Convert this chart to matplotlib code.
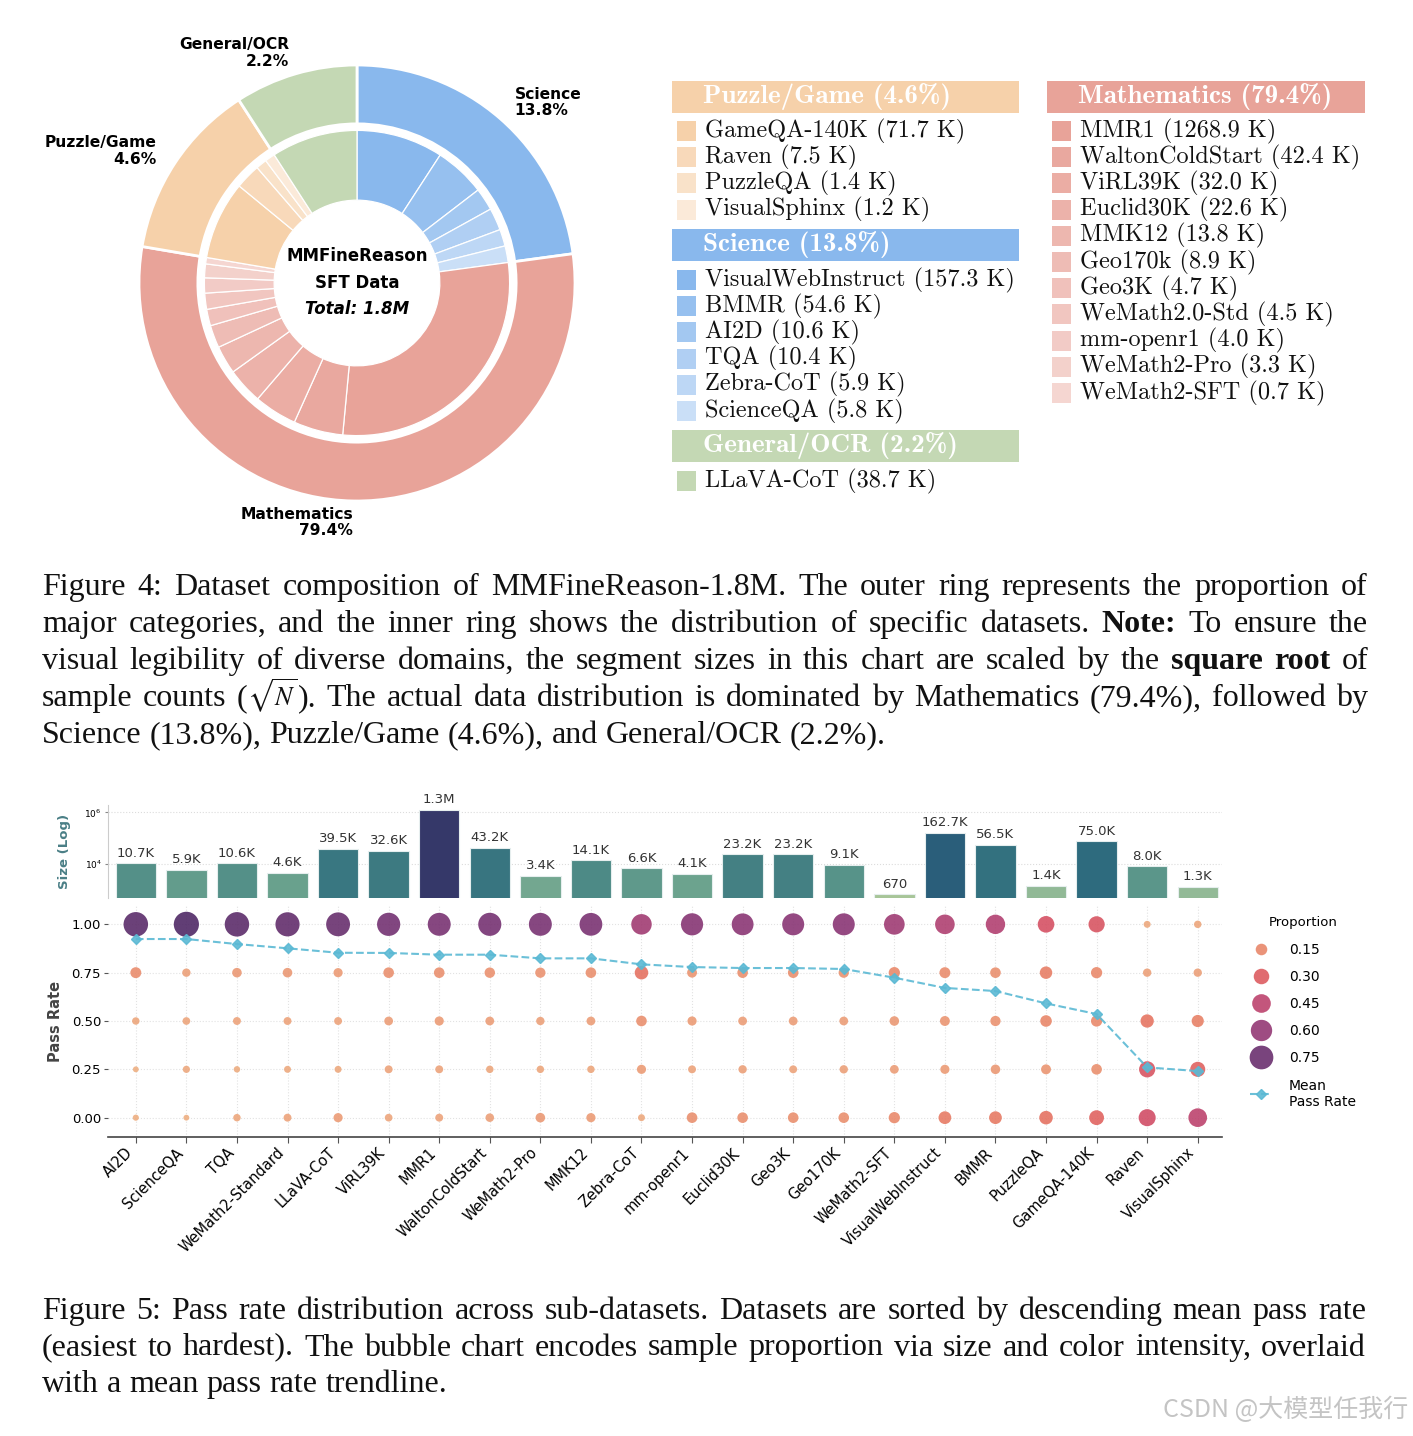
import numpy as np
import matplotlib
matplotlib.use("Agg")
import matplotlib.pyplot as plt
import seaborn as sns
from matplotlib.patches import Rectangle
from matplotlib.lines import Line2D
from matplotlib.colors import Normalize, LogNorm, to_rgb

# ---------------- data : Figure 4 (donut) ----------------
categories = ["Science", "Mathematics", "Puzzle/Game", "General/OCR"]
cat_pct = [13.8, 79.4, 4.6, 2.2]
cat_colors = ["#89b8ed", "#e8a399", "#f6d1aa", "#c4d8b4"]

sci_names = ["VisualWebInstruct", "BMMR", "AI2D", "TQA", "Zebra-CoT", "ScienceQA"]
sci_k = [157.3, 54.6, 10.6, 10.4, 5.9, 5.8]
math_names = ["MMR1", "WaltonColdStart", "ViRL39K", "Euclid30K", "MMK12", "Geo170k",
              "Geo3K", "WeMath2.0-Std", "mm-openr1", "WeMath2-Pro", "WeMath2-SFT"]
math_k = [1268.9, 42.4, 32.0, 22.6, 13.8, 8.9, 4.7, 4.5, 4.0, 3.3, 0.7]
puzzle_names = ["GameQA-140K", "Raven", "PuzzleQA", "VisualSphinx"]
puzzle_k = [71.7, 7.5, 1.4, 1.2]
general_names = ["LLaVA-CoT"]
general_k = [38.7]

# ---------------- data : Figure 5 (pass rate) ----------------
datasets = ["AI2D", "ScienceQA", "TQA", "WeMath2-Standard", "LLaVA-CoT", "ViRL39K", "MMR1",
            "WaltonColdStart", "WeMath2-Pro", "MMK12", "Zebra-CoT", "mm-openr1", "Euclid30K",
            "Geo3K", "Geo170K", "WeMath2-SFT", "VisualWebInstruct", "BMMR", "PuzzleQA",
            "GameQA-140K", "Raven", "VisualSphinx"]
sizes = [10700, 5900, 10600, 4600, 39500, 32600, 1300000, 43200, 3400, 14100, 6600, 4100,
         23200, 23200, 9100, 670, 162700, 56500, 1400, 75000, 8000, 1300]
levels = [0.0, 0.25, 0.50, 0.75, 1.00]
prop_000 = [0.015, 0.01, 0.04, 0.05, 0.08, 0.045, 0.05, 0.065, 0.09, 0.08, 0.03, 0.12, 0.12,
            0.12, 0.12, 0.14, 0.19, 0.19, 0.22, 0.27, 0.37, 0.45]
prop_025 = [0.01, 0.035, 0.02, 0.03, 0.03, 0.05, 0.05, 0.04, 0.04, 0.04, 0.08, 0.05, 0.06,
            0.05, 0.06, 0.07, 0.08, 0.09, 0.10, 0.12, 0.33, 0.28]
prop_050 = [0.04, 0.045, 0.05, 0.05, 0.05, 0.07, 0.08, 0.07, 0.06, 0.07, 0.12, 0.08, 0.07,
            0.07, 0.07, 0.09, 0.10, 0.11, 0.15, 0.14, 0.21, 0.17]
prop_075 = [0.13, 0.06, 0.09, 0.09, 0.08, 0.12, 0.12, 0.115, 0.11, 0.12, 0.22, 0.10, 0.12,
            0.12, 0.11, 0.14, 0.13, 0.12, 0.18, 0.14, 0.06, 0.06]
prop_100 = [0.805, 0.85, 0.80, 0.78, 0.76, 0.715, 0.70, 0.71, 0.70, 0.69, 0.55, 0.65, 0.63,
            0.64, 0.64, 0.56, 0.50, 0.49, 0.35, 0.33, 0.03, 0.04]
mean_pass = [0.924, 0.924, 0.898, 0.876, 0.853, 0.852, 0.843, 0.843, 0.824, 0.824, 0.793,
             0.779, 0.774, 0.774, 0.769, 0.724, 0.671, 0.655, 0.591, 0.536, 0.260, 0.241]
legend_props = [0.15, 0.30, 0.45, 0.60, 0.75]

# ---------------- figure ----------------
W, H = 1413, 1436
fig = plt.figure(figsize=(W / 100, H / 100), dpi=100)
fig.patch.set_facecolor("white")
ov = fig.add_axes([0, 0, 1, 1])
ov.set_xlim(0, W)
ov.set_ylim(H, 0)
ov.axis("off")
renderer = fig.canvas.get_renderer()


def lighten(c, t):
    r = np.array(to_rgb(c))
    return tuple(r + (1 - r) * t)


def shades(base, n):
    if n == 1:
        return [base]
    return [lighten(base, 0.55 * i / (n - 1)) for i in range(n)]


# ---------------- donut ----------------
cx, cy, R = 357, 283, 218
half = 1.3 * R
ax_pie = fig.add_axes([(cx - half) / W, 1 - (cy + half) / H, 2 * half / W, 2 * half / H])
outer_vals = np.sqrt(cat_pct)
outer_labels = [f"{c}\n{p}%" for c, p in zip(categories, cat_pct)]
ax_pie.pie(outer_vals, radius=1.0, startangle=90, counterclock=False, colors=cat_colors,
           labels=outer_labels, labeldistance=1.1,
           wedgeprops=dict(width=0.27, edgecolor="white", linewidth=2),
           textprops=dict(fontsize=11.2, fontweight="bold", color="black", linespacing=1.1))

groups = [(sci_k, cat_colors[0]), (math_k, cat_colors[1]), (puzzle_k, cat_colors[2]),
          (general_k, cat_colors[3])]
inner_vals, inner_cols = [], []
for (ks, base), tot in zip(groups, outer_vals):
    sq = np.sqrt(ks)
    inner_vals.extend(sq / sq.sum() * tot)
    inner_cols.extend(shades(base, len(ks)))
ax_pie.pie(inner_vals, radius=0.70, startangle=90, counterclock=False, colors=inner_cols,
           wedgeprops=dict(width=0.32, edgecolor="white", linewidth=0.9))
ax_pie.set_xlim(-1.3, 1.3)
ax_pie.set_ylim(-1.3, 1.3)
ax_pie.text(0, 0.124, "MMFineReason", ha="center", va="center", fontsize=12, fontweight="bold")
ax_pie.text(0, 0.0, "SFT Data", ha="center", va="center", fontsize=12, fontweight="bold")
ax_pie.text(0, -0.117, "Total: 1.8M", ha="center", va="center", fontsize=12,
            fontweight="bold", style="italic")

# ---------------- donut legend ----------------
def header(x0, x1, ytop, color, text):
    ov.add_patch(Rectangle((x0, ytop), x1 - x0, 32, facecolor=color, edgecolor="none"))
    ov.text(x0 + 31, ytop + 16, text, ha="left", va="center", color="white",
            fontsize=19.5, family="cmb10")


def items(xs, ystart, names, ks, cols):
    for i, (n, k, c) in enumerate(zip(names, ks, cols)):
        y = ystart + 26.2 * i
        ov.add_patch(Rectangle((xs, y - 10), 19, 20, facecolor=c, edgecolor="none"))
        ov.text(xs + 28, y, f"{n} ({k} K)", ha="left", va="center", fontsize=17.5,
                family="cmr10", color="#111111")


header(672, 1019, 81, cat_colors[2], f"Puzzle/Game ({cat_pct[2]}%)")
items(677, 131, puzzle_names, puzzle_k, shades(cat_colors[2], len(puzzle_k)))
header(672, 1019, 229, cat_colors[0], f"Science ({cat_pct[0]}%)")
items(677, 280, sci_names, sci_k, shades(cat_colors[0], len(sci_k)))
header(672, 1019, 430, cat_colors[3], f"General/OCR ({cat_pct[3]}%)")
items(677, 481, general_names, general_k, shades(cat_colors[3], 1))
header(1047, 1365, 81, cat_colors[1], f"Mathematics ({cat_pct[1]}%)")
items(1052, 131, math_names, math_k, shades(cat_colors[1], len(math_k)))

# ---------------- captions ----------------
CAP_FS = 23


def cap_word(y, word):
    """A word may be made of pieces joined by '|'; '**' = bold, '~' = smaller size."""
    pieces = []
    for p in word.split("|"):
        bold = "**" in p
        small = p.startswith("~")
        txt = p.replace("**", "").lstrip("~")
        t = ov.text(0, y, txt, fontsize=CAP_FS * (0.82 if small else 1.0),
                    family="Liberation Serif", fontweight="bold" if bold else "normal",
                    math_fontfamily="stix", ha="left", va="baseline", color="#111111")
        pieces.append((t, t.get_window_extent(renderer).width))
    return pieces


def cap_line(y, line, x0=42, x1=1368, justify=True):
    words = [cap_word(y, w) for w in line.split(" ")]
    ws = [sum(w for _, w in pcs) for pcs in words]
    if justify and len(words) > 1:
        gap = (x1 - x0 - sum(ws)) / (len(words) - 1)
    else:
        gap = 0.25 * CAP_FS * 100 / 72
    x = x0
    for pcs, wsum in zip(words, ws):
        xx = x
        for t, w in pcs:
            t.set_x(xx)
            xx += w
        x += wsum + gap


cap4 = [
    "Figure 4: Dataset composition of MMFineReason-1.8M. The outer ring represents the proportion of",
    "major categories, and the inner ring shows the distribution of specific datasets. **Note:** To ensure the",
    "visual legibility of diverse domains, the segment sizes in this chart are scaled by the **square** **root** of",
    r"sample counts (|~$\sqrt{N}$|). The actual data distribution is dominated by Mathematics (79.4%), followed by",
    "Science (13.8%), Puzzle/Game (4.6%), and General/OCR (2.2%).",
]
for i, ln in enumerate(cap4):
    cap_line(595 + 37 * i, ln, justify=(i < len(cap4) - 1))

cap5 = [
    "Figure 5: Pass rate distribution across sub-datasets. Datasets are sorted by descending mean pass rate",
    "(easiest to hardest). The bubble chart encodes sample proportion via size and color intensity, overlaid",
    "with a mean pass rate trendline.",
]
for i, ln in enumerate(cap5):
    cap_line(1319 + 36.5 * i, ln, x1=1366, justify=(i < len(cap5) - 1))

ov.text(1408, 1410, "CSDN @大模型任我行", ha="right", va="center", fontsize=18,
        color="#c4c4c4", family=["Noto Sans CJK SC", "DejaVu Sans"])

# ---------------- Figure 5 ----------------
AX_L, AX_R = 108, 1222
ax_bar = fig.add_axes([AX_L / W, 1 - 898 / H, (AX_R - AX_L) / W, 93 / H])
ax_bub = fig.add_axes([AX_L / W, 1 - 1137 / H, (AX_R - AX_L) / W, 232 / H], sharex=ax_bar)

x = np.arange(len(datasets))
crest = sns.color_palette("crest", as_cmap=True)
flare = sns.color_palette("flare", as_cmap=True)

snorm = LogNorm(vmin=min(sizes), vmax=max(sizes))
bar_cols = [sns.desaturate(crest(snorm(s)), 0.75) for s in sizes]
ax_bar.bar(x, sizes, width=0.8, color=bar_cols, edgecolor="#e6eeee", linewidth=0.8, zorder=2)
ax_bar.set_yscale("log")
ax_bar.set_ylim(min(sizes) * 0.7, max(sizes) * 1.5)
ax_bar.set_yticks([1e4, 1e6])
ax_bar.set_yticklabels([r"$10^4$", r"$10^6$"], fontsize=6.5)
ax_bar.yaxis.set_minor_locator(matplotlib.ticker.NullLocator())
ax_bar.tick_params(axis="y", length=2.5, color="#888888", pad=2)
ax_bar.tick_params(axis="x", bottom=False, labelbottom=False)
ax_bar.grid(axis="y", ls=":", color="#dcdcdc", lw=0.8, zorder=0)
for sp in ["top", "right", "bottom"]:
    ax_bar.spines[sp].set_visible(False)
ax_bar.spines["left"].set_color("#cccccc")
ax_bar.set_ylabel("Size (Log)", fontsize=9.5, fontweight="bold", color="#4a7f86", labelpad=10)


def fmt_size(v):
    if v >= 1e6:
        return f"{v / 1e6:.1f}M"
    if v >= 1e3:
        return f"{v / 1e3:.1f}K"
    return f"{int(v)}"


for xi, s in zip(x, sizes):
    ax_bar.annotate(fmt_size(s), (xi, s), xytext=(0, 2.5), textcoords="offset points",
                    ha="center", va="bottom", fontsize=9.5, color="#333333")


def bubble_size(p):
    return 14 + 370 * np.asarray(p)


props = [prop_000, prop_025, prop_050, prop_075, prop_100]
pmax = max(max(p) for p in props)
pnorm = Normalize(vmin=0.0, vmax=pmax)
for lev, pr in zip(levels, props):
    ax_bub.scatter(x, np.full(len(x), lev), s=bubble_size(pr), c=pr, cmap=flare, norm=pnorm,
                   alpha=0.88, edgecolors="none", zorder=2)
line_c = "#5bb9d4"
ax_bub.plot(x, mean_pass, ls="--", color=line_c, lw=1.5, marker="D", ms=5, alpha=0.9, zorder=3)

ax_bub.set_ylim(-0.1, 1.1)
ax_bub.set_xlim(-0.55, 21.48)
ax_bub.set_yticks(levels)
ax_bub.set_yticklabels([f"{v:.2f}" for v in levels], fontsize=9.5)
ax_bub.set_xticks(x)
ax_bub.set_xticklabels(datasets, rotation=45, ha="right", fontsize=10.5)
ax_bub.tick_params(axis="x", length=4, color="#555555", pad=2)
ax_bub.tick_params(axis="y", length=3, color="#555555", pad=2)
ax_bub.grid(True, ls=":", color="#e2e2e2", lw=0.8, zorder=0)
ax_bub.set_axisbelow(True)
for sp in ["top", "right", "left"]:
    ax_bub.spines[sp].set_visible(False)
ax_bub.spines["bottom"].set_color("#444444")
ax_bub.spines["bottom"].set_linewidth(1.2)
ax_bub.set_ylabel("Pass Rate", fontsize=10.5, fontweight="bold", color="#444444", labelpad=6)

handles = [Line2D([], [], ls="none", marker="o", markersize=np.sqrt(bubble_size(v)),
                  markerfacecolor=flare(pnorm(v)), markeredgecolor="none", alpha=0.88)
           for v in legend_props]
handles.append(Line2D([], [], ls="--", color=line_c, lw=1.5, marker="D", ms=5, alpha=0.9))
labels = [f"{v:.2f}" for v in legend_props] + ["Mean\nPass Rate"]
leg = ax_bub.legend(handles, labels, title="Proportion", loc="upper left",
                    bbox_to_anchor=(1.02, 0.975), frameon=False, fontsize=10,
                    title_fontsize=9.5, labelspacing=0.95, handletextpad=1.2, handlelength=1.6,
                    borderaxespad=0)

fig.savefig("out.png", dpi=100, facecolor="white")
